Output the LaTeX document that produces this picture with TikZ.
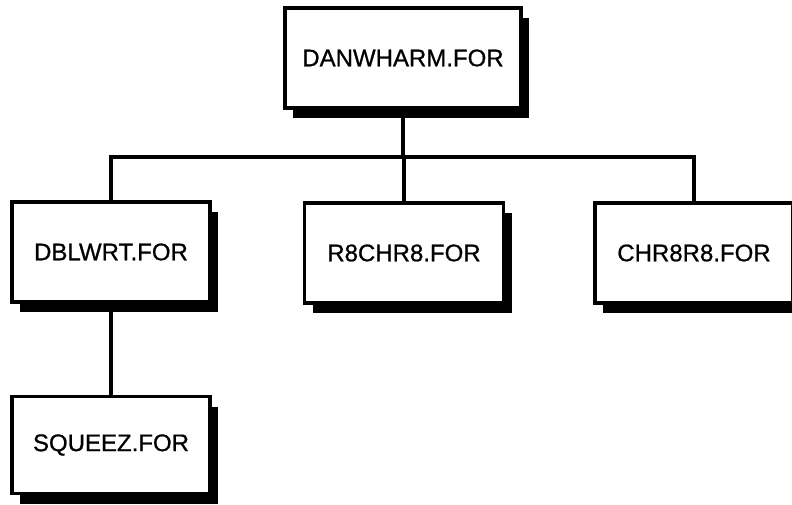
\documentclass[tikz,border=0pt]{standalone}
\usepackage{fontspec}
\setmainfont[FakeBold=0.8]{Liberation Sans}
\usetikzlibrary{shadows}
\begin{document}
\begin{tikzpicture}[x=1pt,y=-1pt,
  modbox/.style={draw, line width=3.2pt, fill=white, minimum height=100pt,
    inner sep=0pt, font=\fontsize{24}{26}\selectfont,
    drop shadow={shadow xshift=8pt, shadow yshift=-10pt, opacity=1, fill=black}},
  conn/.style={line width=3.2pt}]
\useasboundingbox (0,0) rectangle (792,505);
\fill[white] (0,0) rectangle (792,505);
\coordinate (bus) at (404,157);
\node[modbox, minimum width=236pt] (top) at (403,58) {DANWHARM.FOR};
\node[modbox, minimum width=198pt] (dbl) at (111,252) {DBLWRT.FOR};
\node[modbox, minimum width=199pt] (r8) at (404,253) {R8CHR8.FOR};
\node[modbox, minimum width=198pt] (chr) at (694,253) {CHR8R8.FOR};
\node[modbox, minimum width=198pt, minimum height=97pt] (sq) at (111,445) {SQUEEZ.FOR};
\draw[conn] (top.south) -- (top.south |- bus);
\draw[conn] (dbl.north) |- (bus) -| (chr.north);
\draw[conn] (r8.north) -- (r8.north |- bus);
\draw[conn] (dbl.south) -- (sq.north);
\end{tikzpicture}
\end{document}
